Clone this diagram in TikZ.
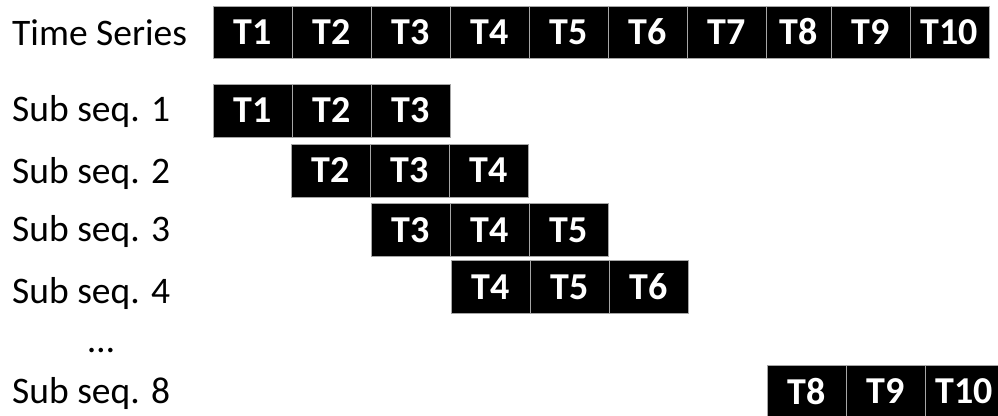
\documentclass[tikz,border=0pt]{standalone}
\usepackage{fontspec}
\setmainfont{Carlito}
\usepackage{xcolor}
\usetikzlibrary{positioning}

\begin{document}
\begin{tikzpicture}[x=1pt, y=-1pt,
    cell/.style={rectangle, draw=gray!70, line width=0.8pt, fill=black, text=white,
      font=\bfseries\fontsize{38}{42}\selectfont, minimum width=79pt,
      minimum height=53pt, inner sep=0pt, outer sep=0pt},
    rowlabel/.style={anchor=base west, inner sep=0pt, font=\fontsize{37.5}{42}\selectfont}]
    \useasboundingbox (0,0) rectangle (998,415);

    % labels on the left
    \node[rowlabel] (series) at (12,45) {Time Series};
    \node[rowlabel] (sub1) at (12,121) {Sub seq. 1};
    \node[rowlabel] (sub2) at (12,183) {Sub seq. 2};
    \node[rowlabel] (sub3) at (12,241) {Sub seq. 3};
    \node[rowlabel] (sub4) at (12,303) {Sub seq. 4};
    \node[rowlabel, anchor=base] (dots) at (101,352) {…};
    \node[rowlabel] (sub8) at (12,403) {Sub seq. 8};

    % full time series
    \node[cell, minimum height=52pt] (t1) at (252.5,32) {T1};
    \node[cell, minimum height=52pt, right=0pt of t1] (t2) {T2};
    \node[cell, minimum height=52pt, right=0pt of t2] (t3) {T3};
    \node[cell, minimum height=52pt, right=0pt of t3] (t4) {T4};
    \node[cell, minimum height=52pt, right=0pt of t4] (t5) {T5};
    \node[cell, minimum height=52pt, right=0pt of t5] (t6) {T6};
    \node[cell, minimum height=52pt, right=0pt of t6] (t7) {T7};
    \node[cell, minimum height=52pt, minimum width=65pt, right=0pt of t7] (t8) {T8};
    \node[cell, minimum height=52pt, right=0pt of t8] (t9) {T9};
    \node[cell, minimum height=52pt, right=0pt of t9] (t10) {T10};

    % sub sequence 1
    \node[cell] (s1a) at (252.5,110.5) {T1};
    \node[cell, right=0pt of s1a] (s1b) {T2};
    \node[cell, right=0pt of s1b] (s1c) {T3};

    % sub sequence 2
    \node[cell] (s2a) at (330.5,170.5) {T2};
    \node[cell, right=0pt of s2a] (s2b) {T3};
    \node[cell, right=0pt of s2b] (s2c) {T4};

    % sub sequence 3
    \node[cell] (s3a) at (411,230) {T3};
    \node[cell, right=0pt of s3a] (s3b) {T4};
    \node[cell, right=0pt of s3b] (s3c) {T5};

    % sub sequence 4
    \node[cell] (s4a) at (490.5,287) {T4};
    \node[cell, right=0pt of s4a] (s4b) {T5};
    \node[cell, right=0pt of s4b] (s4c) {T6};

    % sub sequence 8
    \node[cell] (s8a) at (806.5,391.5) {T8};
    \node[cell, right=0pt of s8a] (s8b) {T9};
    \node[cell, right=0pt of s8b] (s8c) {T10};
\end{tikzpicture}
\end{document}
